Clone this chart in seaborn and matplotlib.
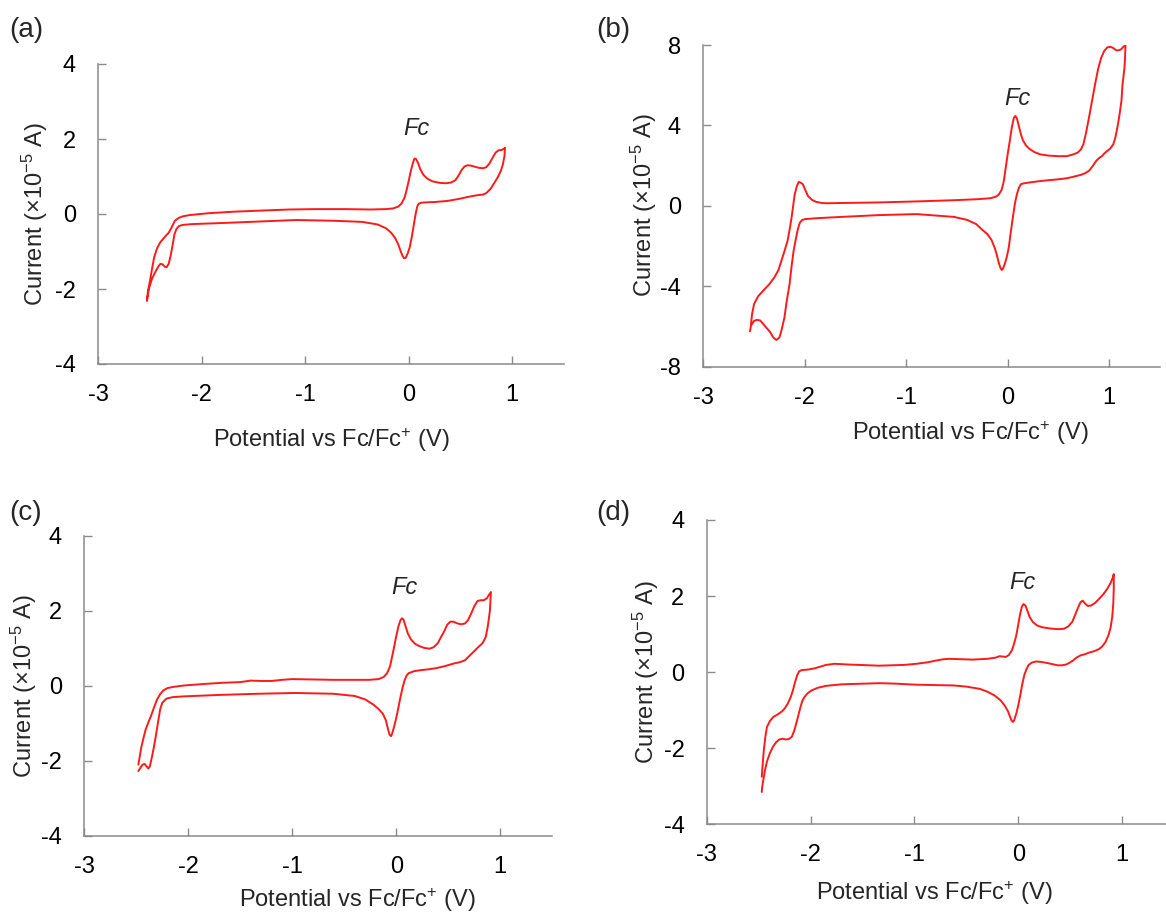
import numpy as np
import pandas as pd
import matplotlib
matplotlib.use("Agg")
import matplotlib.pyplot as plt
import seaborn as sns

# ---- cyclic voltammograms: (potential V vs Fc/Fc+, current in 1e-5 A) ----
# each sweep is listed in scan order

# (a)
a_fwd = [(-2.53, -2.31), (-2.52, -2.05), (-2.50, -1.77), (-2.48, -1.45), (-2.46, -1.15),
         (-2.43, -0.90), (-2.40, -0.75), (-2.36, -0.62), (-2.32, -0.50), (-2.29, -0.35),
         (-2.26, -0.18), (-2.22, -0.10), (-2.18, -0.06), (-2.12, -0.03), (-2.05, -0.01),
         (-1.94, 0.02), (-1.70, 0.06), (-1.44, 0.09), (-1.15, 0.12), (-0.91, 0.13),
         (-0.60, 0.13), (-0.37, 0.12), (-0.22, 0.13), (-0.15, 0.15), (-0.10, 0.20),
         (-0.07, 0.28), (-0.04, 0.44), (-0.02, 0.65), (0.00, 0.89), (0.02, 1.15),
         (0.04, 1.36), (0.055, 1.48), (0.07, 1.47), (0.09, 1.36), (0.11, 1.20),
         (0.14, 1.05), (0.18, 0.94), (0.23, 0.87), (0.30, 0.83), (0.36, 0.82),
         (0.41, 0.84), (0.45, 0.90), (0.48, 1.02), (0.51, 1.17), (0.54, 1.27),
         (0.57, 1.30), (0.60, 1.29), (0.64, 1.26), (0.68, 1.23), (0.72, 1.22),
         (0.75, 1.25), (0.78, 1.35), (0.81, 1.50), (0.84, 1.64), (0.87, 1.70),
         (0.90, 1.71), (0.92, 1.74), (0.93, 1.77)]
a_rev = [(0.93, 1.77), (0.925, 1.55), (0.91, 1.33), (0.89, 1.15), (0.86, 0.98),
         (0.82, 0.80), (0.79, 0.67), (0.75, 0.56), (0.72, 0.52), (0.69, 0.51),
         (0.66, 0.50), (0.62, 0.48), (0.58, 0.46), (0.53, 0.43), (0.48, 0.40),
         (0.40, 0.36), (0.34, 0.34), (0.25, 0.32), (0.16, 0.31), (0.12, 0.30),
         (0.10, 0.28), (0.09, 0.25), (0.08, 0.18), (0.07, 0.05), (0.06, -0.10),
         (0.045, -0.35), (0.03, -0.60), (0.01, -0.88), (-0.01, -1.05), (-0.03, -1.17),
         (-0.045, -1.18), (-0.06, -1.12), (-0.08, -0.98), (-0.10, -0.82), (-0.13, -0.65),
         (-0.17, -0.50), (-0.22, -0.38), (-0.30, -0.28), (-0.45, -0.21), (-0.73, -0.18),
         (-1.09, -0.16), (-1.44, -0.20), (-1.80, -0.24), (-2.10, -0.27), (-2.18, -0.29),
         (-2.22, -0.32), (-2.245, -0.40), (-2.265, -0.55), (-2.28, -0.80), (-2.30, -1.10),
         (-2.32, -1.33), (-2.34, -1.42), (-2.36, -1.40), (-2.38, -1.34), (-2.40, -1.33),
         (-2.42, -1.40), (-2.45, -1.55), (-2.48, -1.72), (-2.51, -1.98), (-2.53, -2.31)]

# (b)
b_fwd = [(-2.53, -5.87), (-2.52, -5.40), (-2.50, -4.88), (-2.46, -4.50), (-2.41, -4.22),
         (-2.35, -3.90), (-2.30, -3.56), (-2.26, -3.20), (-2.23, -2.73), (-2.20, -2.25),
         (-2.17, -1.74), (-2.15, -1.20), (-2.13, -0.58), (-2.115, 0.00), (-2.10, 0.55),
         (-2.08, 0.95), (-2.06, 1.19), (-2.04, 1.15), (-2.02, 1.08), (-2.00, 0.85),
         (-1.97, 0.50), (-1.93, 0.30), (-1.89, 0.20), (-1.83, 0.14), (-1.78, 0.13),
         (-1.50, 0.15), (-1.27, 0.17), (-0.90, 0.22), (-0.53, 0.28), (-0.30, 0.33),
         (-0.17, 0.38), (-0.12, 0.45), (-0.09, 0.55), (-0.06, 0.80), (-0.04, 1.20),
         (-0.02, 1.90), (0.00, 2.60), (0.02, 3.23), (0.04, 3.90), (0.06, 4.38),
         (0.075, 4.47), (0.09, 4.35), (0.11, 3.95), (0.13, 3.55), (0.15, 3.25),
         (0.18, 3.00), (0.21, 2.85), (0.26, 2.68), (0.32, 2.56), (0.40, 2.50),
         (0.50, 2.47), (0.58, 2.47), (0.64, 2.55), (0.69, 2.65), (0.72, 2.80),
         (0.745, 3.06), (0.77, 3.60), (0.80, 4.38), (0.83, 5.20), (0.86, 6.04),
         (0.89, 6.80), (0.92, 7.36), (0.95, 7.70), (0.98, 7.88), (1.01, 7.91),
         (1.04, 7.85), (1.07, 7.73), (1.10, 7.74), (1.12, 7.80), (1.14, 7.92), (1.16, 7.98)]
b_rev = [(1.16, 7.98), (1.155, 7.30), (1.15, 6.87), (1.13, 6.00), (1.12, 5.21),
         (1.10, 4.50), (1.08, 3.89), (1.06, 3.40), (1.04, 3.06), (1.01, 2.85),
         (0.98, 2.73), (0.95, 2.60), (0.93, 2.48), (0.90, 2.38), (0.87, 2.23),
         (0.84, 2.00), (0.80, 1.74), (0.76, 1.62), (0.72, 1.54), (0.65, 1.45),
         (0.58, 1.37), (0.48, 1.31), (0.39, 1.27), (0.30, 1.22), (0.21, 1.16),
         (0.16, 1.12), (0.13, 1.08), (0.11, 0.90), (0.09, 0.58), (0.07, 0.10),
         (0.05, -0.58), (0.03, -1.30), (0.01, -2.07), (-0.01, -2.55), (-0.03, -2.90),
         (-0.05, -3.15), (-0.06, -3.19), (-0.075, -3.05), (-0.09, -2.80), (-0.11, -2.40),
         (-0.13, -2.07), (-0.16, -1.70), (-0.20, -1.41), (-0.26, -1.15), (-0.31, -0.91),
         (-0.40, -0.70), (-0.53, -0.55), (-0.90, -0.41), (-1.27, -0.46), (-1.64, -0.55),
         (-1.90, -0.62), (-2.00, -0.66), (-2.03, -0.72), (-2.05, -0.85), (-2.07, -1.20),
         (-2.09, -1.70), (-2.11, -2.23), (-2.13, -3.00), (-2.15, -3.89), (-2.18, -4.80),
         (-2.20, -5.54), (-2.23, -6.20), (-2.25, -6.55), (-2.28, -6.67), (-2.31, -6.55),
         (-2.34, -6.29), (-2.38, -6.05), (-2.41, -5.87), (-2.44, -5.70), (-2.47, -5.67),
         (-2.50, -5.72), (-2.53, -5.95), (-2.54, -6.24)]

# (c)
c_fwd = [(-2.48, -2.10), (-2.465, -1.85), (-2.45, -1.61), (-2.43, -1.38), (-2.41, -1.16),
         (-2.385, -0.98), (-2.36, -0.81), (-2.33, -0.58), (-2.30, -0.36), (-2.27, -0.22),
         (-2.24, -0.12), (-2.20, -0.06), (-2.15, -0.03), (-2.04, 0.01), (-1.85, 0.05),
         (-1.68, 0.08), (-1.50, 0.10), (-1.40, 0.14), (-1.30, 0.13), (-1.20, 0.13),
         (-1.10, 0.16), (-1.00, 0.18), (-0.80, 0.17), (-0.61, 0.16), (-0.26, 0.16),
         (-0.17, 0.18), (-0.12, 0.24), (-0.09, 0.33), (-0.06, 0.52), (-0.04, 0.78),
         (-0.02, 1.05), (0.00, 1.33), (0.02, 1.58), (0.04, 1.75), (0.055, 1.80),
         (0.07, 1.76), (0.09, 1.58), (0.11, 1.40), (0.14, 1.24), (0.18, 1.12),
         (0.22, 1.06), (0.27, 1.01), (0.32, 0.99), (0.36, 1.03), (0.40, 1.14),
         (0.43, 1.30), (0.46, 1.45), (0.49, 1.63), (0.52, 1.71), (0.55, 1.71),
         (0.58, 1.67), (0.62, 1.64), (0.66, 1.66), (0.69, 1.75), (0.72, 1.93),
         (0.75, 2.12), (0.78, 2.26), (0.81, 2.28), (0.84, 2.28), (0.87, 2.33),
         (0.89, 2.42), (0.91, 2.50)]
c_rev = [(0.91, 2.50), (0.905, 2.25), (0.90, 2.00), (0.88, 1.59), (0.86, 1.30),
         (0.83, 1.14), (0.78, 1.01), (0.74, 0.90), (0.70, 0.79), (0.66, 0.68),
         (0.61, 0.63), (0.56, 0.60), (0.46, 0.52), (0.38, 0.47), (0.31, 0.44),
         (0.24, 0.42), (0.17, 0.39), (0.12, 0.34), (0.10, 0.28), (0.08, 0.15),
         (0.06, -0.05), (0.04, -0.30), (0.02, -0.58), (0.00, -0.85), (-0.02, -1.08),
         (-0.04, -1.27), (-0.05, -1.34), (-0.065, -1.30), (-0.08, -1.15), (-0.10, -0.92),
         (-0.13, -0.74), (-0.17, -0.62), (-0.22, -0.50), (-0.30, -0.36), (-0.40, -0.27),
         (-0.61, -0.21), (-0.97, -0.19), (-1.32, -0.21), (-1.68, -0.24), (-2.04, -0.28),
         (-2.15, -0.30), (-2.21, -0.34), (-2.25, -0.45), (-2.27, -0.62), (-2.29, -0.95),
         (-2.31, -1.30), (-2.33, -1.62), (-2.35, -1.90), (-2.37, -2.15), (-2.385, -2.20),
         (-2.40, -2.15), (-2.42, -2.08), (-2.44, -2.10), (-2.46, -2.18), (-2.48, -2.27)]

# (d)
d_fwd = [(-2.47, -2.75), (-2.46, -2.40), (-2.45, -2.05), (-2.435, -1.70), (-2.42, -1.44),
         (-2.39, -1.28), (-2.36, -1.18), (-2.31, -1.10), (-2.27, -1.02), (-2.245, -0.94),
         (-2.22, -0.83), (-2.19, -0.65), (-2.17, -0.48), (-2.15, -0.27), (-2.13, -0.09),
         (-2.11, 0.02), (-2.09, 0.05), (-2.02, 0.07), (-1.96, 0.10), (-1.91, 0.14),
         (-1.85, 0.19), (-1.77, 0.22), (-1.63, 0.20), (-1.34, 0.17), (-1.10, 0.19),
         (-0.98, 0.22), (-0.87, 0.26), (-0.80, 0.30), (-0.72, 0.34), (-0.66, 0.35),
         (-0.55, 0.34), (-0.44, 0.33), (-0.30, 0.35), (-0.22, 0.38), (-0.18, 0.42),
         (-0.15, 0.41), (-0.12, 0.40), (-0.09, 0.45), (-0.06, 0.58), (-0.04, 0.75),
         (-0.02, 0.95), (0.00, 1.25), (0.02, 1.55), (0.035, 1.72), (0.05, 1.79),
         (0.07, 1.75), (0.09, 1.60), (0.11, 1.45), (0.14, 1.32), (0.18, 1.23),
         (0.23, 1.18), (0.30, 1.15), (0.38, 1.13), (0.44, 1.14), (0.48, 1.20),
         (0.52, 1.32), (0.55, 1.52), (0.58, 1.72), (0.60, 1.84), (0.62, 1.88),
         (0.645, 1.80), (0.67, 1.74), (0.70, 1.75), (0.74, 1.82), (0.78, 1.93),
         (0.82, 2.05), (0.86, 2.20), (0.89, 2.35), (0.91, 2.48), (0.92, 2.58)]
d_rev = [(0.92, 2.58), (0.92, 2.20), (0.915, 1.79), (0.905, 1.45), (0.89, 1.18),
         (0.87, 0.98), (0.84, 0.79), (0.81, 0.68), (0.78, 0.61), (0.73, 0.55),
         (0.69, 0.52), (0.64, 0.47), (0.60, 0.44), (0.56, 0.38), (0.53, 0.31),
         (0.49, 0.24), (0.46, 0.20), (0.42, 0.18), (0.38, 0.18), (0.33, 0.21),
         (0.28, 0.24), (0.22, 0.27), (0.17, 0.28), (0.13, 0.25), (0.10, 0.19),
         (0.08, 0.08), (0.06, -0.06), (0.04, -0.30), (0.02, -0.60), (0.00, -0.88),
         (-0.02, -1.10), (-0.04, -1.27), (-0.05, -1.31), (-0.065, -1.27), (-0.08, -1.16),
         (-0.10, -1.02), (-0.13, -0.88), (-0.17, -0.74), (-0.23, -0.61), (-0.30, -0.51),
         (-0.37, -0.44), (-0.50, -0.38), (-0.62, -0.35), (-0.98, -0.33), (-1.20, -0.30),
         (-1.34, -0.29), (-1.70, -0.32), (-1.85, -0.36), (-1.93, -0.41), (-1.99, -0.48),
         (-2.03, -0.56), (-2.06, -0.66), (-2.08, -0.76), (-2.10, -0.95), (-2.13, -1.27),
         (-2.155, -1.52), (-2.18, -1.70), (-2.21, -1.76), (-2.24, -1.77), (-2.27, -1.75),
         (-2.30, -1.77), (-2.33, -1.84), (-2.36, -1.95), (-2.39, -2.12), (-2.42, -2.35),
         (-2.44, -2.60), (-2.455, -2.85), (-2.465, -3.00), (-2.47, -3.15)]

panel_tags = ["(a)", "(b)", "(c)", "(d)"]
x_ticks = [-3, -2, -1, 0, 1]
y_ticks_small = [-4, -2, 0, 2, 4]
y_ticks_large = [-8, -4, 0, 4, 8]
x_title = r"Potential vs Fc/Fc$^{+}$ (V)"
y_title = r"Current (×10$^{-5}$ A)"
peak_label = "Fc"

sns.set_theme(style="ticks")
plt.rcParams.update({
    "font.family": ["Liberation Sans", "DejaVu Sans"],
    "mathtext.fontset": "custom",
    "mathtext.rm": "Liberation Sans",
    "mathtext.it": "Liberation Sans:italic",
    "axes.unicode_minus": False,
})

W, H = 1166, 914
fig = plt.figure(figsize=(W / 100, H / 100), dpi=100)


def px_axes(left, right, top, bottom):
    return fig.add_axes([left / W, 1 - bottom / H, (right - left) / W, (bottom - top) / H])


panels = [
    dict(box=(98.3, 564.0, 64.0, 364.0), fwd=a_fwd, rev=a_rev,
         ylim=(-4, 4), yt=y_ticks_small, xl=(0.500, -0.253), yl=(-0.136, 0.500),
         tag=(26.0, 30.0), fc=(0.07, 2.29)),
    dict(box=(703.3, 1160.0, 45.0, 366.7), fwd=b_fwd, rev=b_rev,
         ylim=(-8, 8), yt=y_ticks_large, xl=(0.586, -0.206), yl=(-0.129, 0.503),
         tag=(613.7, 30.0), fc=(0.09, 5.35)),
    dict(box=(84.3, 552.3, 535.7, 836.0), fwd=c_fwd, rev=c_rev,
         ylim=(-4, 4), yt=y_ticks_small, xl=(0.583, -0.213), yl=(-0.129, 0.500),
         tag=(26.0, 513.0), fc=(0.08, 2.63)),
    dict(box=(706.7, 1174.0, 520.0, 824.3), fwd=d_fwd, rev=d_rev,
         ylim=(-4, 4), yt=y_ticks_small, xl=(0.487, -0.226), yl=(-0.131, 0.499),
         tag=(613.6, 513.0), fc=(0.04, 2.36)),
]

spine_grey = "#8a8a8a"
fs = 17

for tag, p in zip(panel_tags, panels):
    ax = px_axes(*p["box"])
    sweep = np.array(list(p["fwd"]) + list(p["rev"]))
    df = pd.DataFrame({"E": sweep[:, 0], "I": sweep[:, 1]})
    sns.lineplot(data=df, x="E", y="I", sort=False, estimator=None, color="#ff1a1a",
                 linewidth=1.4, ax=ax)
    ax.set_xlim(-3, 1.5)
    ax.set_ylim(*p["ylim"])
    ax.set_xticks(x_ticks)
    ax.set_yticks(p["yt"])
    ax.set_xticklabels([str(t) for t in x_ticks])
    ax.set_yticklabels([str(t) for t in p["yt"]])
    for s in ("top", "right"):
        ax.spines[s].set_visible(False)
    for s in ("left", "bottom"):
        ax.spines[s].set_color(spine_grey)
        ax.spines[s].set_linewidth(1.1)
    ax.tick_params(direction="in", length=6, width=1.0, color=spine_grey,
                   labelsize=fs, labelcolor="black")
    ax.tick_params(axis="x", pad=14.5)
    ax.tick_params(axis="y", pad=16.0)
    ax.set_xlabel(x_title, fontsize=fs)
    ax.set_ylabel(y_title, fontsize=fs)
    ax.xaxis.set_label_coords(*p["xl"])
    ax.xaxis.label.set_va("center")
    ax.yaxis.set_label_coords(*p["yl"])
    ax.yaxis.label.set_va("center")
    ax.text(p["fc"][0], p["fc"][1], peak_label, fontsize=fs, style="italic",
            ha="center", va="center")
    fig.text(p["tag"][0] / W, 1 - p["tag"][1] / H, tag, fontsize=20,
             ha="center", va="center")

fig.savefig("out.png", dpi=100, facecolor="white")
